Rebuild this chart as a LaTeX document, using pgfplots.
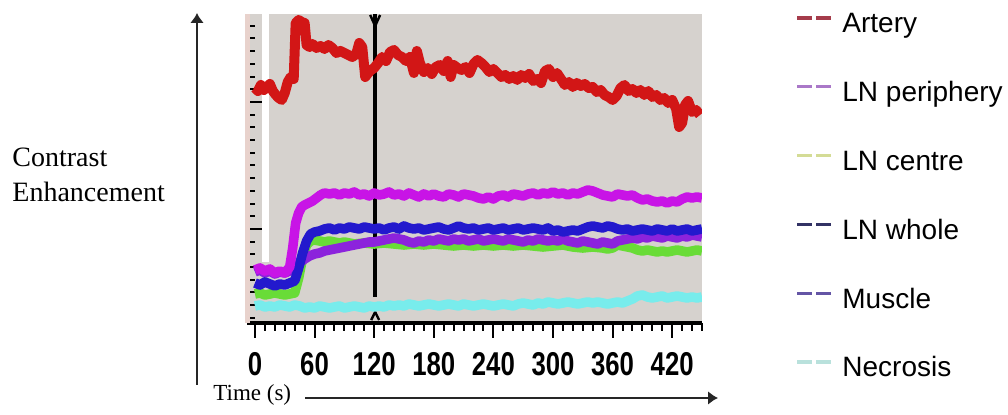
\documentclass[border=0pt]{standalone}
\usepackage{pgfplots}
\pgfplotsset{compat=1.18}
\usepackage{graphicx}
\usepackage{fontspec}
\setmainfont{Liberation Serif}
\newfontfamily\sansf{Liberation Sans}
\usetikzlibrary{arrows.meta}
\definecolor{bggray}{RGB}{214,210,206}
\definecolor{pinkaxis}{RGB}{232,210,204}
\definecolor{cArtery}{RGB}{210,22,22}
\definecolor{cPeri}{RGB}{200,20,230}
\definecolor{cCentre}{RGB}{105,220,55}
\definecolor{cWhole}{RGB}{35,25,205}
\definecolor{cMuscle}{RGB}{140,35,220}
\definecolor{cNecro}{RGB}{120,236,236}
\definecolor{lArtery}{RGB}{165,60,75}
\definecolor{lPeri}{RGB}{170,120,200}
\definecolor{lCentre}{RGB}{212,220,150}
\definecolor{lWhole}{RGB}{50,50,100}
\definecolor{lMuscle}{RGB}{100,85,165}
\definecolor{lNecro}{RGB}{185,225,220}
\begin{document}
\begin{tikzpicture}
\useasboundingbox (0,0) rectangle (504pt,207.5pt);
\begin{axis}[
  at={(123.5pt,46pt)}, anchor=south west,
  scale only axis, width=227.5pt, height=154.5pt,
  xmin=-8, xmax=450, ymin=0, ymax=309,
  axis x line*=bottom, axis y line*=left,
  axis background/.style={fill=bggray},
  x axis line style={black, line width=2pt},
  y axis line style={pinkaxis, line width=2.5pt},
  xtick={0,60,...,420}, minor xtick={0,10,...,450},
  ytick={94,221}, minor ytick={5.1,17.8,...,305},
  yticklabels={},
  major tick length=7.5pt, minor tick length=4pt,
  tick style={black, line width=1pt},
  xtick align=outside, ytick align=inside,
  xticklabel={\scalebox{0.78}[1]{\sansf\bfseries\fontsize{16.5}{18}\selectfont\pgfmathprintnumber[assume math mode=true]{\tick}}},
  xticklabel style={anchor=north, inner sep=0pt, yshift=-7pt},
  clip=true,
  line join=round,
]
\addplot[white, line width=3.5pt, forget plot] coordinates {(11,61)(11,309)};
\addplot[black, line width=2pt, forget plot] coordinates {(121,26)(121,309)};
\addplot[black, line width=1.2pt, forget plot] coordinates {(116,308)(121,297)(126,308)};
\addplot[black, line width=1.2pt, forget plot] coordinates {(117,3)(121,11)(125,3)};
% Necrosis
\addplot[cNecro, line width=4.8pt] coordinates {
(0,17)(5,18)(10,16)(15,17)(20,16)(25,18)(30,17)(35,16)(40,18)(45,17)(50,15)(55,16)(60,15)(65,17)(70,16)(75,15)(80,16)(85,17)(90,15)(95,16)(100,17)(105,16)(110,15)(115,17)(120,16)(125,17)(130,16)(135,18)(140,17)(145,18)(150,17)(155,19)(160,18)(165,17)(170,18)(175,19)(180,18)(185,17)(190,18)(195,19)(200,18)(205,17)(210,19)(215,18)(220,17)(225,18)(230,19)(235,18)(240,17)(245,18)(250,19)(255,18)(260,17)(265,19)(270,20)(275,19)(280,18)(285,20)(290,19)(295,21)(300,20)(305,19)(310,20)(315,21)(320,20)(325,19)(330,20)(335,21)(340,20)(345,21)(350,20)(355,19)(360,20)(365,21)(370,20)(375,22)(380,24)(385,27)(390,28)(395,26)(400,25)(405,26)(410,27)(415,25)(420,26)(425,27)(430,26)(435,25)(440,26)(445,25)(450,26)};
% LN centre
\addplot[cCentre, line width=4.8pt] coordinates {
(0,29)(5,30)(10,28)(15,29)(20,30)(25,29)(30,28)(35,29)(40,30)(44,45)(48,65)(52,78)(56,82)(60,83)(65,82)(70,81)(75,82)(80,81)(85,80)(90,81)(95,80)(100,79)(110,80)(120,79)(130,80)(140,79)(150,78)(160,79)(170,78)(180,79)(190,78)(200,77)(210,78)(220,77)(230,78)(240,77)(250,78)(260,77)(270,78)(280,77)(290,76)(300,77)(310,78)(320,76)(330,75)(340,76)(350,75)(355,74)(360,75)(365,78)(370,77)(375,76)(380,75)(385,73)(390,72)(395,73)(400,72)(405,71)(410,72)(415,71)(420,72)(425,73)(430,72)(435,71)(440,72)(445,73)(450,72)};
% Muscle
\addplot[cMuscle, line width=4.8pt] coordinates {
(0,51)(5,53)(10,50)(15,52)(20,49)(25,51)(30,50)(35,52)(40,55)(45,60)(50,64)(55,67)(60,69)(65,70)(70,72)(75,73)(80,74)(85,75)(90,76)(95,77)(100,78)(105,79)(110,80)(115,81)(120,81)(125,82)(130,83)(135,84)(140,85)(145,84)(150,83)(155,81)(160,80)(165,82)(170,81)(175,83)(180,82)(185,84)(190,83)(195,82)(200,84)(205,83)(210,84)(215,82)(220,83)(225,84)(230,82)(235,83)(240,84)(245,83)(250,82)(255,84)(260,83)(265,82)(270,81)(275,83)(280,82)(285,84)(290,83)(295,82)(300,83)(305,82)(310,84)(315,82)(320,81)(325,80)(330,82)(335,81)(340,80)(345,79)(350,81)(355,80)(360,79)(365,82)(370,83)(375,84)(380,85)(385,84)(390,86)(395,85)(400,87)(405,86)(410,85)(415,87)(420,86)(425,85)(430,87)(435,86)(440,88)(445,87)(450,86)};
% LN whole
\addplot[cWhole, line width=4.8pt] coordinates {
(0,40)(5,38)(10,41)(15,39)(20,37)(25,39)(30,38)(35,40)(40,42)(44,55)(48,70)(52,82)(56,89)(60,91)(65,92)(70,94)(75,95)(80,93)(85,95)(90,94)(95,96)(100,95)(105,94)(110,96)(115,95)(120,94)(125,95)(130,93)(135,95)(140,96)(145,94)(150,97)(155,95)(160,94)(165,95)(170,93)(175,94)(180,95)(185,96)(190,94)(195,93)(200,95)(205,97)(210,95)(215,94)(220,95)(225,93)(230,94)(235,95)(240,93)(245,94)(250,95)(255,93)(260,94)(265,95)(270,93)(275,94)(280,95)(285,94)(290,93)(295,95)(300,92)(305,93)(310,91)(315,92)(320,93)(325,92)(330,94)(335,96)(340,97)(345,96)(350,95)(355,97)(360,96)(365,94)(370,93)(375,94)(380,92)(385,93)(390,94)(395,93)(400,92)(405,94)(410,93)(415,92)(420,94)(425,92)(430,93)(435,94)(440,92)(445,93)(450,94)};
% LN periphery
\addplot[cPeri, line width=4.8pt] coordinates {
(0,53)(5,55)(10,52)(15,54)(20,50)(25,52)(30,50)(35,56)(38,75)(41,100)(44,110)(47,116)(50,118)(54,120)(58,122)(62,125)(66,128)(70,130)(75,129)(80,130)(85,128)(90,130)(95,129)(100,131)(105,128)(110,129)(115,127)(120,130)(125,128)(130,129)(135,131)(140,128)(145,129)(150,127)(155,130)(160,128)(165,126)(170,129)(175,127)(180,129)(185,127)(190,126)(195,129)(200,128)(205,126)(210,129)(215,128)(220,127)(225,125)(230,124)(235,126)(240,124)(245,127)(250,128)(255,126)(260,129)(265,128)(270,127)(275,129)(280,130)(285,128)(290,130)(295,129)(300,131)(305,129)(310,130)(315,128)(320,130)(325,129)(330,131)(335,133)(340,132)(345,130)(350,128)(355,127)(360,126)(365,129)(370,128)(375,127)(380,128)(385,125)(390,123)(395,124)(400,122)(405,121)(410,122)(415,120)(420,122)(425,121)(430,124)(435,126)(440,125)(445,126)(450,125)};
% Artery
\addplot[cArtery, line width=5pt] coordinates {
(0,235)(3,232)(6,238)(9,233)(12,236)(15,239)(18,232)(21,228)(24,225)(27,223)(30,230)(33,241)(36,246)(39,244)(41,300)(44,303)(47,301)(50,300)(52,278)(55,276)(58,279)(62,275)(66,277)(70,274)(74,278)(78,275)(82,270)(86,272)(90,270)(94,268)(98,266)(102,269)(105,280)(108,276)(111,246)(114,250)(117,253)(120,255)(124,260)(128,266)(132,262)(136,271)(140,273)(144,268)(148,266)(152,262)(156,266)(160,250)(163,272)(166,260)(170,251)(174,255)(178,249)(182,256)(186,258)(190,252)(194,262)(197,246)(200,258)(204,255)(208,253)(212,256)(216,250)(220,259)(224,263)(228,260)(232,256)(236,251)(240,254)(244,250)(248,246)(252,248)(256,244)(260,247)(264,243)(268,248)(272,245)(276,249)(280,242)(284,244)(288,240)(292,252)(296,254)(300,246)(304,250)(308,244)(312,238)(316,241)(320,236)(324,240)(328,237)(332,239)(336,235)(340,236)(344,231)(348,233)(352,228)(356,226)(360,223)(364,227)(368,235)(372,238)(376,232)(380,234)(384,230)(388,233)(392,228)(396,232)(400,226)(404,228)(408,223)(412,225)(416,220)(420,223)(424,214)(427,196)(430,200)(433,218)(436,222)(440,211)(444,213)(448,208)};
\end{axis}
\begin{scope}[x=0.5pt, y=-0.5pt, yshift=207.5pt]
\draw[line width=1pt, black!85, -{Latex[length=5pt,width=7pt]}] (197,385) -- (197,13);
\draw[line width=1pt, black!85, -{Latex[length=5pt,width=7pt]}] (305,398) -- (718,398);
\node[anchor=base west, inner sep=0pt, font=\fontsize{14}{16}\selectfont] at (12,167) {Contrast};
\node[anchor=base west, inner sep=0pt, font=\fontsize{14}{16}\selectfont] at (12,202) {Enhancement};
\node[anchor=base west, inner sep=0pt, font=\fontsize{11.5}{13}\selectfont] at (213,401) {Time (s)};
\foreach \c/\t [count=\i from 0] in {lArtery/Artery, lPeri/LN periphery, lCentre/LN centre, lWhole/LN whole, lMuscle/Muscle, lNecro/Necrosis}{
  \pgfmathsetmacro{\yy}{18+68.8*\i}
  \draw[\c, line width=1.6pt, dash pattern=on 7.5pt off 2pt] (797,\yy) -- (833,\yy);
  \node[anchor=base west, inner sep=0pt, font=\sansf\fontsize{14}{16}\selectfont] at (842,\yy+15) {\t};
}
\end{scope}
\end{tikzpicture}
\end{document}
